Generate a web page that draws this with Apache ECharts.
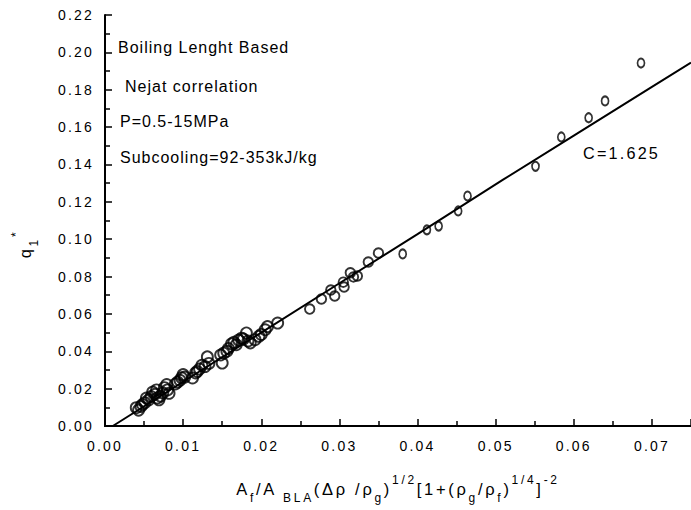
<!DOCTYPE html>
<html><head><meta charset="utf-8">
<script src="https://cdn.jsdelivr.net/npm/echarts@6/dist/echarts.min.js"></script>
<style>html,body{margin:0;padding:0;background:#fff}#c{width:691px;height:510px}</style>
</head><body><div id="c"></div>
<script>
// measured points
const pointX = [0.0040,0.0043,0.0046,0.0048,0.0051,0.0053,0.0056,0.0059,0.0061,0.0064,0.0066,0.0067,0.0069,0.0071,0.0074,0.0076,0.0079,0.0080,0.0082,0.0090,0.0093,0.0096,0.0098,0.0100,0.0102,0.0112,0.0116,0.0118,0.0121,0.0124,0.0128,0.0131,0.0133,0.0148,0.0150,0.0152,0.0156,0.0158,0.0162,0.0165,0.0168,0.0171,0.0175,0.0177,0.0181,0.0183,0.0186,0.0192,0.0197,0.0200,0.0205,0.0208,0.0221,0.0262,0.0277,0.0289,0.0294,0.0305,0.0306,0.0314,0.0318,0.0323,0.0337,0.0350,0.0381,0.0412,0.0427,0.0452,0.0464,0.0551,0.0584,0.0619,0.0640,0.0686];
const pointY = [0.0098,0.0085,0.0105,0.0115,0.0125,0.0150,0.0140,0.0158,0.0182,0.0170,0.0193,0.0150,0.0140,0.0160,0.0177,0.0205,0.0222,0.0193,0.0175,0.0225,0.0235,0.0245,0.0258,0.0275,0.0262,0.0257,0.0284,0.0292,0.0305,0.0325,0.0318,0.0370,0.0335,0.0380,0.0337,0.0390,0.0400,0.0415,0.0440,0.0448,0.0435,0.0460,0.0470,0.0465,0.0498,0.0455,0.0445,0.0462,0.0480,0.0490,0.0515,0.0532,0.0551,0.0626,0.0680,0.0728,0.0696,0.0770,0.0744,0.0820,0.0798,0.0803,0.0878,0.0926,0.0921,0.1050,0.1070,0.1151,0.1231,0.1390,0.1547,0.1650,0.1740,0.1943];
// correlation curve C=1.625
const fitX = [0.0010,0.0100,0.0200,0.0300,0.0400,0.0509,0.0600,0.0700,0.0750];
const fitY = [0.0000,0.0237,0.0500,0.0764,0.1027,0.1317,0.1554,0.1815,0.1945];
const notes = ['Boiling Lenght Based','Nejat correlation','P=0.5-15MPa','Subcooling=92-353kJ/kg','C=1.625'];
const xTitleParts = [['m','A'],['s','f'],['m','/A'],['s',' BLA'],['m','(Δρ /ρ'],['s','g'],['m',')'],['p','1/2'],['m','[1+(ρ'],['s','g'],['m','/ρ'],['s','f'],['m',')'],['p','1/4'],['m',']'],['p','-2']];
const yTitleParts = [['m','q'],['s','1'],['p','*']];

const FONT = '"Liberation Sans", Arial, Helvetica, sans-serif';
const TITLE_LS = 2.7;
function buildRich(parts){
  const rich = {};
  let text = '';
  parts.forEach((p,i)=>{
    const kind = p[0], t = p[1];
    const base = kind==='m' ? {fontSize:16.5, lineHeight:30, verticalAlign:'middle'}
               : kind==='s' ? {fontSize:12, lineHeight:10, verticalAlign:'bottom'}
               : {fontSize:12, lineHeight:17, verticalAlign:'top'};
    rich['t'+i] = Object.assign({fontFamily:FONT, color:'#000', align:'left', padding:[0, t.length*TITLE_LS, 0, 0]}, base);
    text += '{t'+i+'|'+t+'}';
  });
  return {text, rich};
}
const xt = buildRich(xTitleParts);
const yt = buildRich(yTitleParts);

const notePos = [[118,47.5],[125,86],[120,121],[120,157.5],[583,153]];
const noteSize = [16,16,16,16,16.2];

const chart = echarts.init(document.getElementById('c'), null, {renderer:'svg'});
const axisCommon = {
  type:'value',
  axisLine:{show:true, onZero:false, lineStyle:{color:'#000', width:2}},
  axisTick:{show:true, inside:true, length:7, lineStyle:{color:'#000', width:1.5}},
  minorTick:{show:true, splitNumber:2, length:5, lineStyle:{color:'#000', width:1.5}},
  splitLine:{show:false}
};
chart.setOption({
  animation:false,
  backgroundColor:'#fff',
  grid:{left:105, top:15, right:-5, bottom:84},
  xAxis:[Object.assign({}, axisCommon, {
    min:0, max:0.075, interval:0.01, position:'bottom',
    axisLabel:{fontSize:14, fontFamily:FONT, color:'#000', margin:13, showMaxLabel:false, formatter:v=>v.toFixed(2)},
    name:xt.text, nameLocation:'middle', nameGap:48,
    nameTextStyle:{rich:xt.rich}
  }), {
    type:'value', min:0, max:0.075, position:'top',
    axisLine:{show:true, lineStyle:{color:'#000', width:2}},
    axisTick:{show:false}, axisLabel:{show:false}, splitLine:{show:false}
  }],
  yAxis:[Object.assign({}, axisCommon, {
    min:0, max:0.22, interval:0.02,
    axisLabel:{fontSize:14, fontFamily:FONT, color:'#000', margin:11, formatter:v=>v.toFixed(2)}
  })],
  graphic: notes.map((t,i)=>({
    type:'text', x:notePos[i][0], y:notePos[i][1],
    style:{text:t, font:noteSize[i]+'px '+FONT, fill:'#000', textAlign:'left', textVerticalAlign:'middle', align:'left', verticalAlign:'middle'}
  })).concat([{
    type:'text', x:25, y:244, rotation:Math.PI/2,
    style:{text:yt.text, rich:yt.rich, textAlign:'center', textVerticalAlign:'middle', align:'center', verticalAlign:'middle'}
  }]),
  series:[{
    type:'line', data:fitX.map((x,i)=>[x, fitY[i]]), showSymbol:false, symbol:'none',
    lineStyle:{color:'#000', width:2}, silent:true, clip:true
  },{
    type:'scatter', data:pointX.map((x,i)=>[x, pointY[i]]), symbol:'circle',
    symbolSize:v=> v[0] < 0.024 ? 11 : (v[0] < 0.037 ? 9.5 : [7,9]),
    itemStyle:{color:'rgba(0,0,0,0)', borderColor:'#000', borderWidth:1.9}, silent:true
  }]
});
function applySpacing(){
  document.querySelectorAll('#c svg text').forEach(t=>{
    const fs = parseFloat(getComputedStyle(t).fontSize);
    let ls = 0;
    if (Math.abs(fs-14)<0.05) ls = 2.2;
    else if (Math.abs(fs-16)<0.05) ls = 1;
    else if (Math.abs(fs-16.2)<0.05) ls = 2.2;
    else if (Math.abs(fs-16.5)<0.05 || Math.abs(fs-12)<0.05) ls = TITLE_LS;
    t.style.letterSpacing = ls+'px';
  });
}
chart.on('finished', applySpacing);
applySpacing();
setTimeout(applySpacing, 50);
</script></body></html>
